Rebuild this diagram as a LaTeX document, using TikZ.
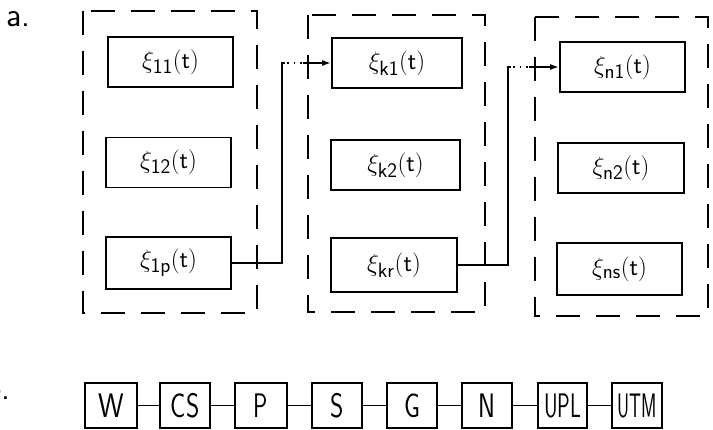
\documentclass[tikz,border=0pt]{standalone}
\usetikzlibrary{arrows.meta}
\begin{document}
\begin{tikzpicture}[x=1pt,y=-1pt,
  blk/.style={draw,line width=1.8pt,minimum width=125pt,minimum height=50pt,inner sep=0pt,font=\fontsize{30}{34}\selectfont},
  sblk/.style={draw,line width=1.8pt,minimum width=50pt,minimum height=45pt,inner sep=0pt,font=\fontsize{34}{36}\sffamily},
  grp/.style={draw,line width=1.7pt,dash pattern=on 24pt off 16pt},
  conn/.style={line width=1.7pt},
  dotconn/.style={line width=1.7pt,dash pattern=on 1.7pt off 5pt},
  arr/.style={line width=1.7pt,-{Latex[length=9pt,width=6pt]}},
  lbl/.style={font=\fontsize{34}{36}\sffamily,inner sep=0pt}]
\useasboundingbox (0,0) rectangle (713,430);
% labels
\node[lbl,anchor=west] (la) at (6,19) {a.};
\node[lbl,anchor=base east] (lb) at (11,400) {b.};
% dashed groups
\draw[grp] (83,11) rectangle (257,313);
\draw[grp] (308,15) rectangle (485,312);
\draw[grp] (535,17) rectangle (708,316);
% group 1
\node[blk] (x11) at (170.5,62) {$\xi_{\mathsf{11}}(\mathsf{t})$};
\node[blk] (x12) at (168.5,162.5) {$\xi_{\mathsf{12}}(\mathsf{t})$};
\node[blk,minimum height=52pt] (x1p) at (168.5,263) {$\xi_{\mathsf{1p}}(\mathsf{t})$};
% group 2
\node[blk,minimum width=130pt] (xk1) at (397,63) {$\xi_{\mathsf{k1}}(\mathsf{t})$};
\node[blk,minimum width=129pt] (xk2) at (395.5,165) {$\xi_{\mathsf{k2}}(\mathsf{t})$};
\node[blk,minimum width=126pt,minimum height=54pt] (xkr) at (394,265) {$\xi_{\mathsf{kr}}(\mathsf{t})$};
% group 3
\node[blk] (xn1) at (622.5,67) {$\xi_{\mathsf{n1}}(\mathsf{t})$};
\node[blk,minimum width=126pt] (xn2) at (621,168) {$\xi_{\mathsf{n2}}(\mathsf{t})$};
\node[blk,minimum height=52pt] (xns) at (619.5,269) {$\xi_{\mathsf{ns}}(\mathsf{t})$};
% connectors
\coordinate (c1) at (282,63);
\coordinate (d1) at (303,63);
\draw[conn] (x1p.east) -| (c1) -- ++(3,0);
\draw[dotconn] (c1) ++(5,0) -- (d1);
\draw[arr] (d1) -- (xk1.west);
\coordinate (c2) at (508,67);
\coordinate (d2) at (529,67);
\draw[conn] (xkr.east) -| (c2) -- ++(3,0);
\draw[dotconn] (c2) ++(5,0) -- (d2);
\draw[arr] (d2) -- (xn1.west);
% bottom chain
\node[sblk,minimum width=52pt] (w) at (111,405.5) {\scalebox{0.85}[1]{W}};
\node[sblk] (cs) at (185,405.5) {\scalebox{0.75}[1]{CS}};
\node[sblk,minimum width=52pt] (p) at (261,405.5) {\scalebox{0.7}[1]{P}};
\node[sblk] (s) at (337,405.5) {\scalebox{0.75}[1]{S}};
\node[sblk] (g) at (412,405.5) {\scalebox{0.75}[1]{G}};
\node[sblk] (n) at (487,405.5) {\scalebox{0.75}[1]{N}};
\node[sblk,minimum width=49pt] (upl) at (562.5,405.5) {\scalebox{0.62}[1]{UPL}};
\node[sblk] (utm) at (637,405.5) {\scalebox{0.55}[1]{UTM}};
\draw[conn] (w) -- (cs);
\draw[conn] (cs) -- (p);
\draw[conn] (p) -- (s);
\draw[conn] (s) -- (g);
\draw[conn] (g) -- (n);
\draw[conn] (n) -- (upl);
\draw[conn] (upl) -- (utm);
\end{tikzpicture}
\end{document}
